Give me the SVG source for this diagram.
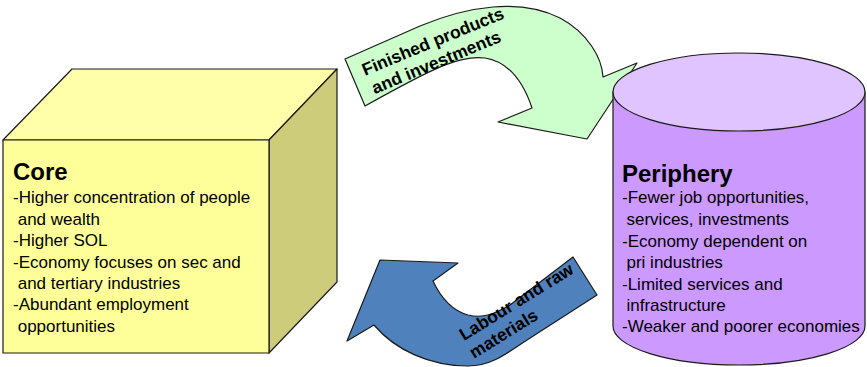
<svg xmlns="http://www.w3.org/2000/svg" width="867" height="367" viewBox="0 0 867 367">
  <style>
    .edge { stroke: #1a1a1a; stroke-width: 1.2; stroke-linejoin: round; }
    .body { font-family: "Liberation Sans", Arial, sans-serif; font-size: 17px; fill: #000; }
    .title { font-family: "Liberation Sans", Arial, sans-serif; font-size: 24px; font-weight: bold; fill: #000; }
    .tag { font-family: "Liberation Sans", Arial, sans-serif; font-size: 17.5px; font-weight: bold; fill: #000; }
  </style>

  <!-- flows between the two regions -->
  <g id="connectors">
    <g id="flow-out">
      <path class="edge" fill="#ccffcc" d="M345,59 L420,26 C468,6 520,-2 560,18 C588,33 602,58 603,77 L637,63 L587,139 L498,122 L532,108 C524,84 510,62 485,58 C462,55 440,64 365,106 Z"/>
      <text class="tag" transform="translate(365,76) rotate(-22.5)"><tspan x="0" y="0">Finished products</tspan><tspan x="2" y="20.5">and investments</tspan></text>
    </g>
    <g id="flow-in">
      <path class="edge" fill="#4f81bd" d="M380,260 L458,263 L433,281 C440,296 450,310 468,315 C484,319 496,313 510,305 L573,257 L597,295 L527,340 C505,355 490,366 468,366 C430,366 395,350 374,325 L347,341 Z"/>
      <text class="tag" transform="translate(464,341) rotate(-31.7)"><tspan x="0" y="0">Labour and raw</tspan><tspan x="-1" y="20.5">materials</tspan></text>
    </g>
  </g>

  <!-- core: a box in perspective -->
  <g id="core">
    <polygon class="edge" fill="#ffffaa" points="3,140 72,69 337,69 269,140"/>
    <polygon class="edge" fill="#cccc7a" points="269,140 337,69 337,282 269,353"/>
    <rect class="edge" fill="#ffff99" x="3" y="140" width="266" height="213"/>
    <text class="title" x="13" y="180">Core</text>
    <text class="body">
      <tspan x="13" y="203">-Higher concentration of people</tspan>
      <tspan x="17.7" y="225">and wealth</tspan>
      <tspan x="13" y="246">-Higher SOL</tspan>
      <tspan x="13" y="267.5">-Economy focuses on sec and</tspan>
      <tspan x="17.7" y="289">and tertiary industries</tspan>
      <tspan x="13" y="310">-Abundant employment</tspan>
      <tspan x="17.7" y="331.5">opportunities</tspan>
    </text>
  </g>

  <!-- periphery: a cylinder -->
  <g id="periphery">
    <path class="edge" fill="#cc99ff" d="M613,92 L613,326 A126,39 0 0 0 865,326 L865,92 Z"/>
    <ellipse class="edge" fill="#e0c4ff" cx="739" cy="92" rx="126" ry="39"/>
    <text class="title" x="622" y="182">Periphery</text>
    <text class="body">
      <tspan x="622" y="203">-Fewer job opportunities,</tspan>
      <tspan x="626.5" y="225">services, investments</tspan>
      <tspan x="622" y="246.5">-Economy dependent on</tspan>
      <tspan x="626.5" y="268">pri industries</tspan>
      <tspan x="622" y="289.5">-Limited services and</tspan>
      <tspan x="626.5" y="310.5">infrastructure</tspan>
      <tspan x="622" y="331.5">-Weaker and poorer economies</tspan>
    </text>
  </g>
</svg>
